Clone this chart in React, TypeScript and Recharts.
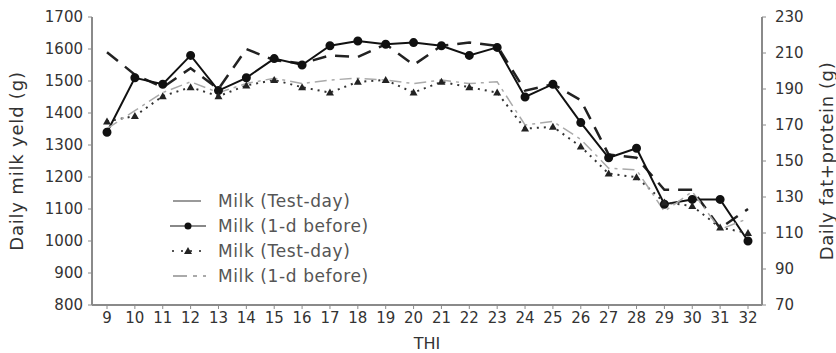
import { LineChart, Line, XAxis, YAxis, Legend, Label } from "recharts";

const thi = [9, 10, 11, 12, 13, 14, 15, 16, 17, 18, 19, 20, 21, 22, 23, 24, 25, 26, 27, 28, 29, 30, 31, 32];

// left axis (g milk)
const milkTestDay = [1590, 1520, 1480, 1540, 1475, 1600, 1565, 1555, 1580, 1575, 1615, 1550, 1610, 1620, 1610, 1470, 1490, 1440, 1270, 1260, 1160, 1160, 1040, 1100];
const milkDayBefore = [1340, 1510, 1490, 1580, 1470, 1510, 1570, 1550, 1610, 1625, 1615, 1620, 1610, 1580, 1605, 1450, 1490, 1370, 1260, 1290, 1115, 1130, 1130, 1000];

// right axis (g fat+protein)
const fpTestDay = [172, 175, 186, 191, 186, 192, 195, 191, 188, 194, 195, 188, 194, 191, 188, 168, 169, 158, 143, 141, 127, 125, 113, 110];
const fpDayBefore = [168, 178, 188, 194, 188, 193, 196, 193, 195, 196, 195, 193, 195, 193, 194, 170, 172, 162, 146, 145, 122, 133, 112, 118];

const legendLabels = ["Milk (Test-day)", "Milk (1-d before)", "Milk (Test-day)", "Milk (1-d before)"];

const data = thi.map((t, i) => ({
  thi: t,
  milkTestDay: milkTestDay[i],
  milkDayBefore: milkDayBefore[i],
  fpTestDay: fpTestDay[i],
  fpDayBefore: fpDayBefore[i],
}));

const font = "'DejaVu Sans', Verdana, sans-serif";
const axisColor = "#8a8a8a";
const tickStyle = { fontSize: 15, fill: "#333", fontFamily: font };

const Triangle = (props: any) => {
  const { cx, cy, index } = props;
  if (cx == null || cy == null) return <g key={index} />;
  return <path key={index} d={`M${cx},${cy - 4} L${cx + 4},${cy + 3} L${cx - 4},${cy + 3} Z`} fill="#222" />;
};

function LegendIcon({ i }: { i: number }) {
  return (
    <svg width={38} height={12} style={{ marginRight: 10 }}>
      {i === 0 && <line x1={3} y1={6} x2={31} y2={6} stroke="#9a9a9a" strokeWidth={2} />}
      {i === 1 && (
        <>
          <line x1={0} y1={6} x2={36} y2={6} stroke="#888" strokeWidth={2} />
          <circle cx={18} cy={6} r={3.5} fill="#111" />
        </>
      )}
      {i === 2 && (
        <>
          <line x1={2} y1={6} x2={36} y2={6} stroke="#555" strokeWidth={2} strokeDasharray="2 7" />
          <path d="M18,2 L22,9 L14,9 Z" fill="#222" />
        </>
      )}
      {i === 3 && <line x1={3} y1={6} x2={36} y2={6} stroke="#aaa" strokeWidth={2} strokeDasharray="14 6 4 6" />}
    </svg>
  );
}

const renderLegend = () => (
  <div style={{ fontFamily: font, fontSize: 17, color: "#555", letterSpacing: 0.6 }}>
    {legendLabels.map((label, i) => (
      <div key={i} style={{ display: "flex", alignItems: "center", height: 25 }}>
        <LegendIcon i={i} />
        <span>{label}</span>
      </div>
    ))}
  </div>
);

export default function App() {
  return (
    <div style={{ position: "fixed", left: 0, top: 0, background: "#fff" }}>
      <LineChart width={836} height={353} data={data} margin={{ top: 17, right: 0, bottom: 0, left: 0 }}>
        <XAxis
          dataKey="thi"
          type="category"
          height={48}
          padding={{ left: 15, right: 14 }}
          tick={tickStyle}
          tickLine={{ stroke: axisColor }}
          tickSize={4}
          tickMargin={3}
          axisLine={{ stroke: axisColor, strokeWidth: 2 }}
          interval={0}
        >
          <Label value="THI" position="insideBottom" offset={4} style={{ fontSize: 16, fill: "#333", fontFamily: font }} />
        </XAxis>
        <YAxis
          yAxisId="left"
          width={92}
          domain={[800, 1700]}
          ticks={[800, 900, 1000, 1100, 1200, 1300, 1400, 1500, 1600, 1700]}
          interval={0}
          tick={tickStyle}
          tickLine={{ stroke: axisColor }}
          tickSize={4}
          tickMargin={5}
          axisLine={{ stroke: axisColor, strokeWidth: 2 }}
        >
          <Label
            value="Daily milk yeld (g)"
            angle={-90}
            position="insideLeft"
            offset={17}
            style={{ fontSize: 18, fill: "#333", fontFamily: font, textAnchor: "middle", letterSpacing: 0.8 }}
          />
        </YAxis>
        <YAxis
          yAxisId="right"
          orientation="right"
          width={74}
          domain={[70, 230]}
          ticks={[70, 90, 110, 130, 150, 170, 190, 210, 230]}
          interval={0}
          tick={tickStyle}
          tickLine={{ stroke: axisColor }}
          tickSize={4}
          tickMargin={9}
          axisLine={{ stroke: axisColor, strokeWidth: 2 }}
        >
          <Label
            value="Daily fat+protein (g)"
            angle={-90}
            position="insideRight"
            offset={9}
            style={{ fontSize: 18, fill: "#333", fontFamily: font, textAnchor: "middle", letterSpacing: 0.6 }}
          />
        </YAxis>
        <Legend
          content={renderLegend}
          layout="vertical"
          align="center"
          verticalAlign="middle"
          wrapperStyle={{ left: 170, top: 188, width: 260 }}
        />
        <Line
          yAxisId="left"
          dataKey="milkTestDay"
          stroke="#222"
          strokeWidth={2.5}
          strokeDasharray="14 9"
          dot={false}
          isAnimationActive={false}
        />
        <Line
          yAxisId="left"
          dataKey="milkDayBefore"
          stroke="#111"
          strokeWidth={2}
          dot={{ r: 3.5, fill: "#111", stroke: "#111" }}
          isAnimationActive={false}
        />
        <Line
          yAxisId="right"
          dataKey="fpTestDay"
          stroke="#333"
          strokeWidth={2}
          strokeDasharray="2 5"
          dot={Triangle}
          isAnimationActive={false}
        />
        <Line
          yAxisId="right"
          dataKey="fpDayBefore"
          stroke="#aaa"
          strokeWidth={1.5}
          strokeDasharray="12 5 3 5"
          dot={false}
          isAnimationActive={false}
        />
      </LineChart>
    </div>
  );
}
